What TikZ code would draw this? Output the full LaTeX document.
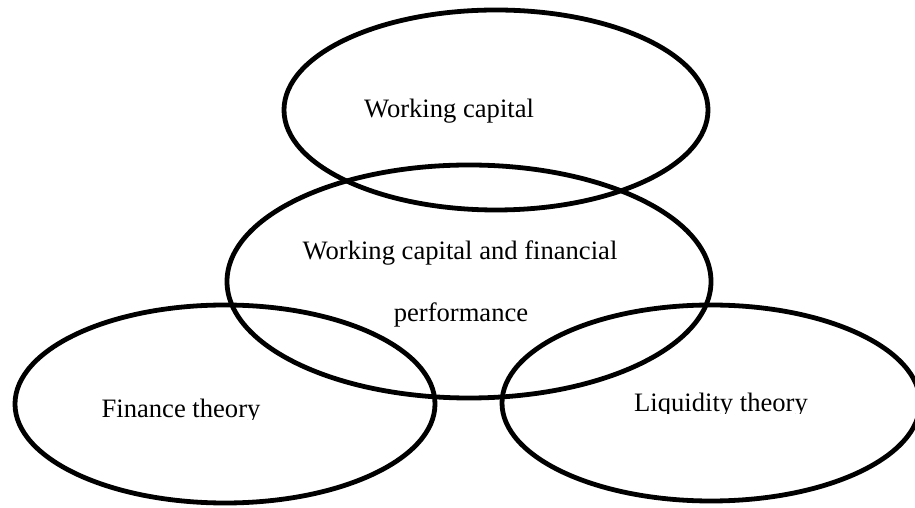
\documentclass[tikz,border=0pt]{standalone}
\usepackage{fontspec}
\setmainfont{Liberation Serif}
\usetikzlibrary{shapes.geometric}
\begin{document}
\begin{tikzpicture}[x=1pt,y=1pt,
  ring/.style={draw=black, line width=4.8pt, ellipse, inner sep=0pt},
  caption/.style={anchor=base, inner sep=0pt, font=\fontsize{26.6}{31}\selectfont}]
  \useasboundingbox (0,0) rectangle (915,508);
  \clip (0,0) rectangle (915,508);

  % the four overlapping sets
  \node[ring, minimum width=424pt, minimum height=200pt] (wc)  at (496,398) {};
  \node[ring, minimum width=484pt, minimum height=233pt] (wcf) at (469,226.5) {};
  \node[ring, minimum width=420pt, minimum height=198pt] (fin) at (225,104) {};
  \node[ring, minimum width=418pt, minimum height=196pt] (liq) at (711,105) {};

  % labels
  \node[caption] (twc)  at (449,390) {Working capital};
  \node[caption] (twcf) at (460,248) {Working capital and financial};
  \node[caption] (tperf) at (461,186) {performance};
  \begin{scope}
    \clip (90,88.5) rectangle (280,130);
    \node[caption] (tfin) at (181,90) {Finance theory};
  \end{scope}
  \begin{scope}
    \clip (620,94.5) rectangle (830,136);
    \node[caption] (tliq) at (721,96) {Liquidity theory};
  \end{scope}
\end{tikzpicture}
\end{document}
